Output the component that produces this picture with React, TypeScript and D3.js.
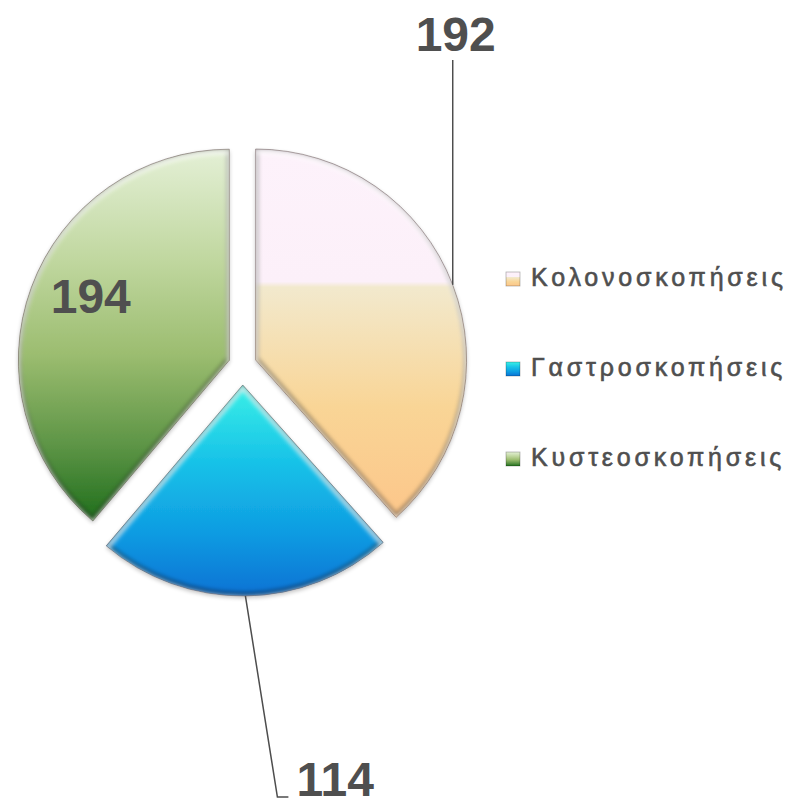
import React from 'react';
import * as d3 from 'd3';

const categories = ['Κολονοσκοπήσεις', 'Γαστροσκοπήσεις', 'Κυστεοσκοπήσεις'];
const values = [192, 114, 194];

const width = 792;
const height = 801;
const cx = 242.5;
const cy = 365;
const radius = 211;
const explode = [14, 20, 14];
const font = '"Liberation Sans", Arial, Helvetica, sans-serif';
const textColor = '#4f4f4f';

// vertical gradient stops per slice
const gradients = [
  [['0', '#fdf2fb'], ['0.36', '#fcf0f9'], ['0.375', '#f2e9cd'], ['0.7', '#f9d596'], ['1', '#fcc68a']],
  [['0', '#3af0e6'], ['0.35', '#19c4e8'], ['0.7', '#0e9ce2'], ['1', '#0a72d4']],
  [['0', '#e4f0d6'], ['0.3', '#c0d79f'], ['0.55', '#9cbd70'], ['0.8', '#5c9445'], ['1', '#1f6e1c']],
];

function App() {
  const pie = d3.pie<number>().sort(null).value(d => d).startAngle(0).endAngle(2 * Math.PI);
  const arcs = pie(values);
  const arc = d3.arc<d3.PieArcDatum<number>>().innerRadius(0).outerRadius(radius);

  const slices = arcs.map((a, i) => {
    const mid = (a.startAngle + a.endAngle) / 2;
    const ox = Math.sin(mid) * explode[i];
    const oy = -Math.cos(mid) * explode[i];
    return { a, i, mid, x: cx + ox, y: cy + oy, d: arc(a) as string };
  });

  // legend
  const legendX = 506;
  const legendY = d3.scaleBand().domain(categories).range([240, 510]);

  // data labels: slice 0 above with leader, 1 below with leader, 2 inside
  const s0 = slices[0];
  const p0 = [s0.x + Math.sin(s0.mid) * radius, s0.y - Math.cos(s0.mid) * radius];
  const s1 = slices[1];
  const p1 = [s1.x + Math.sin(s1.mid) * radius, s1.y - Math.cos(s1.mid) * radius];
  const s2 = slices[2];
  const p2 = [s2.x + Math.sin(s2.mid) * radius * 0.72, s2.y - Math.cos(s2.mid) * radius * 0.72];

  return (
    <svg width={width} height={height} style={{ position: 'absolute', left: 0, top: 0 }}>
      <defs>
        {gradients.map((g, i) => (
          <linearGradient key={i} id={`grad${i}`} x1="0" y1="0" x2="0" y2="1">
            {g.map(([o, c]) => <stop key={o} offset={o} stopColor={c} />)}
          </linearGradient>
        ))}
        {slices.map(s => (
          <clipPath key={s.i} id={`clip${s.i}`}>
            <path d={s.d} />
          </clipPath>
        ))}
        <filter id="blur" x="-10%" y="-10%" width="120%" height="120%">
          <feGaussianBlur stdDeviation="2.2" />
        </filter>
        <filter id="shadow" x="-10%" y="-10%" width="130%" height="130%">
          <feGaussianBlur in="SourceAlpha" stdDeviation="2" />
          <feOffset dx="0" dy="1.5" />
          <feComponentTransfer><feFuncA type="linear" slope="0.25" /></feComponentTransfer>
          <feMerge><feMergeNode /><feMergeNode in="SourceGraphic" /></feMerge>
        </filter>
      </defs>

      {slices.map(s => (
        <g key={s.i} transform={`translate(${s.x},${s.y})`}>
          <path d={s.d} fill={`url(#grad${s.i})`} filter="url(#shadow)" />
          <g clipPath={`url(#clip${s.i})`}>
            <path d={s.d} fill="none" stroke="#000" strokeOpacity={0.4} strokeWidth={5} filter="url(#blur)" transform="translate(0,-1.5)" />
            <path d={s.d} fill="none" stroke="#fff" strokeOpacity={0.7} strokeWidth={5} filter="url(#blur)" transform="translate(0,2.5)" />
          </g>
          <path d={s.d} fill="none" stroke="#6b5a5a" strokeOpacity={0.5} strokeWidth={1} />
        </g>
      ))}

      {/* leader lines */}
      <path d={`M${p0[0]},${p0[1]}L${p0[0]},60`} stroke="#4d4d4d" strokeWidth={1.5} fill="none" />
      <text x={p0[0] + 3} y={51} fontSize={48} fontWeight="bold" fontFamily={font} fill={textColor} textAnchor="middle">{values[0]}</text>

      <path d={`M${p1[0]},${p1[1]}L${p1[0] + 32},797L${p1[0] + 43},797`} stroke="#4d4d4d" strokeWidth={1.5} fill="none" />
      <text x={p1[0] + 51} y={796} fontSize={48} fontWeight="bold" fontFamily={font} fill={textColor}>{values[1]}</text>

      <text x={p2[0] + 4} y={p2[1] + 5} fontSize={48} fontWeight="bold" fontFamily={font} fill={textColor} textAnchor="middle">{values[2]}</text>

      {categories.map((c, i) => {
        const y = (legendY(c) as number) + legendY.bandwidth() / 2;
        return (
          <g key={c} transform={`translate(${legendX},${y})`}>
            <rect x={0} y={-13} width={14} height={14} fill={`url(#grad${i})`} stroke="#000" strokeOpacity={0.3} strokeWidth={0.8} />
            <text x={25} y={1} fontSize={25} fontFamily={font} fill={textColor} letterSpacing={3.8} stroke={textColor} strokeWidth={0.6}>{c}</text>
          </g>
        );
      })}
    </svg>
  );
}

export default App;
